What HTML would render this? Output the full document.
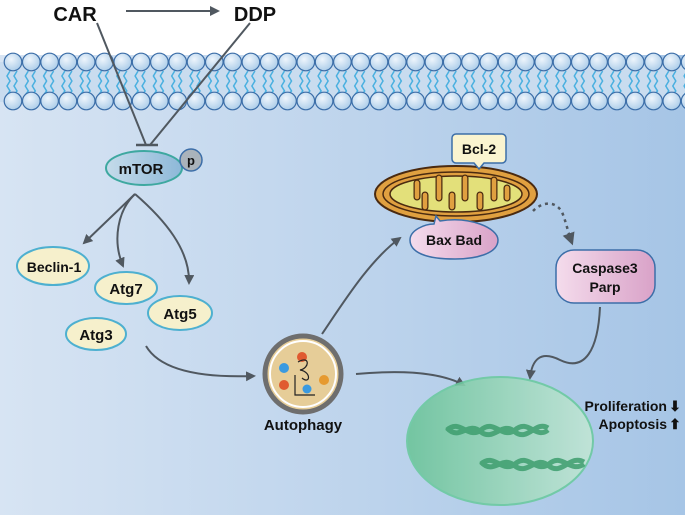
<!DOCTYPE html>
<html><head><meta charset="utf-8"><style>
html,body{margin:0;padding:0;background:#fff}
svg{display:block}
text{font-family:"Liberation Sans",sans-serif;font-weight:bold;fill:#111}
</style></head><body>
<svg width="685" height="520" viewBox="0 0 685 520" xmlns="http://www.w3.org/2000/svg">
<defs>
<linearGradient id="cell" x1="0" x2="1" y1="0" y2="0">
<stop offset="0" stop-color="#d7e4f3"/><stop offset="1" stop-color="#a6c5e6"/></linearGradient>
<linearGradient id="nuc" x1="0" x2="1"><stop offset="0" stop-color="#6cc49a"/><stop offset="1" stop-color="#c2e6d6"/></linearGradient>
<linearGradient id="pink" x1="0" x2="1"><stop offset="0" stop-color="#f4dcec"/><stop offset="1" stop-color="#d9a2c8"/></linearGradient>
<linearGradient id="mt" x1="0" x2="1"><stop offset="0" stop-color="#c5dbea"/><stop offset="1" stop-color="#8db8d8"/></linearGradient>
<radialGradient id="ball" cx="0.4" cy="0.35" r="0.7"><stop offset="0" stop-color="#eef5fc"/><stop offset="1" stop-color="#a9cbe8"/></radialGradient>
<marker id="ah" viewBox="0 0 10 10" refX="8" refY="5" markerWidth="5" markerHeight="5" orient="auto"><path d="M0,0L10,5L0,10z" fill="#505860"/></marker>
</defs>
<rect x="0" y="55" width="685" height="460" fill="url(#cell)"/>
<rect x="0" y="62" width="685" height="40" fill="#c9dcef"/>
<g id="mem"></g>
<g id="circles"></g>
<script>
(function(){var ns="http://www.w3.org/2000/svg",g=document.getElementById("circles"),m=document.getElementById("mem");
for(var i=0;i<38;i++){var x=13+i*18.3;
[62,101].forEach(function(y){var c=document.createElementNS(ns,"circle");c.setAttribute("cx",x);c.setAttribute("cy",y);c.setAttribute("r",8.8);c.setAttribute("fill","url(#ball)");c.setAttribute("stroke","#3c6ea8");c.setAttribute("stroke-width","1.2");g.appendChild(c);});
var p=document.createElementNS(ns,"path");p.setAttribute("d","M"+(x-3)+",71 l-3,5 l3,5 l-3,5 l3,5 l-3,4 M"+(x+4)+",71 l-3,5 l3,5 l-3,5 l3,5 l-3,4");p.setAttribute("stroke","#4ab0e0");p.setAttribute("stroke-width","1.5");p.setAttribute("fill","none");m.appendChild(p);}
})();
</script>
<!-- top -->
<text x="75" y="21" font-size="20" text-anchor="middle">CAR</text>
<text x="255" y="21" font-size="20" text-anchor="middle">DDP</text>
<line x1="126" y1="11" x2="218" y2="11" stroke="#505860" stroke-width="2" marker-end="url(#ah)"/>
<line x1="97" y1="23" x2="146" y2="145" stroke="#505860" stroke-width="2"/>
<line x1="250" y1="23" x2="150" y2="145" stroke="#505860" stroke-width="2"/>
<line x1="136" y1="145" x2="158" y2="145" stroke="#505860" stroke-width="2.5"/>
<!-- mTOR -->
<ellipse cx="144" cy="168" rx="38" ry="17" fill="url(#mt)" stroke="#3ea8a0" stroke-width="2"/>
<text x="141" y="174" font-size="15" text-anchor="middle">mTOR</text>
<circle cx="191" cy="160" r="11" fill="#aab3bb" stroke="#3c6ea8" stroke-width="1.5"/>
<text x="191" y="165" font-size="13" text-anchor="middle">p</text>
<!-- arrows -->
<g stroke="#505860" stroke-width="2" fill="none" marker-end="url(#ah)">
<path d="M135,194 L84,243"/>
<path d="M135,194 C118,210 112,240 123,266"/>
<path d="M135,194 C165,220 190,250 189,283"/>
<path d="M146,346 C160,370 200,378 254,376"/>
<path d="M322,334 C345,300 370,260 400,238"/>
<path d="M356,374 C400,370 440,372 464,385"/>
<path d="M600,307 C598,350 585,372 560,360 C540,350 532,360 530,378"/>
<path d="M533,211 C542,202 555,200 562,212 C566,222 568,232 572,243" stroke-dasharray="3,4" stroke-width="2.5"/>
</g>
<!-- left nodes -->
<g fill="#f6f0cc" stroke="#4eb0d0" stroke-width="2">
<ellipse cx="53" cy="266" rx="36" ry="19"/>
<ellipse cx="126" cy="288" rx="31" ry="16"/>
<ellipse cx="180" cy="313" rx="32" ry="17"/>
<ellipse cx="96" cy="334" rx="30" ry="16"/>
</g>
<text x="54" y="272" font-size="14" text-anchor="middle">Beclin-1</text>
<text x="126" y="294" font-size="15" text-anchor="middle">Atg7</text>
<text x="180" y="319" font-size="15" text-anchor="middle">Atg5</text>
<text x="96" y="340" font-size="15" text-anchor="middle">Atg3</text>
<!-- autophagy -->
<circle cx="303" cy="374" r="38" fill="#e6cd98" stroke="#6e6e6e" stroke-width="5"/>
<circle cx="303" cy="374" r="33" fill="none" stroke="#fff" stroke-width="2"/>
<circle cx="302" cy="357" r="5" fill="#e05a30"/><circle cx="284" cy="368" r="5" fill="#3a9ae0"/>
<circle cx="284" cy="385" r="5" fill="#e05a30"/><circle cx="307" cy="389" r="4.5" fill="#3a9ae0"/>
<circle cx="324" cy="380" r="5" fill="#e69a30"/>
<path d="M298,362 C310,355 310,368 300,370 C312,372 310,385 302,378 M295,375 L295,395 L315,395" stroke="#222" stroke-width="1.2" fill="none"/>
<text x="303" y="430" font-size="15" text-anchor="middle">Autophagy</text>
<!-- nucleus -->
<ellipse cx="500" cy="441" rx="93" ry="64" fill="url(#nuc)" stroke="#6ccaa0" stroke-width="2" opacity="0.9"/>
<g stroke="#3e9e6e" stroke-width="5" fill="none" opacity="0.85">
<path d="M447,430 C460,418 468,440 481,430 C494,418 502,440 515,430 C528,418 536,440 548,430"/>
<path d="M447,428 C460,442 468,420 481,432 C494,442 502,420 515,432 C528,442 536,420 548,428"/>
<path d="M481,464 C494,452 502,474 515,464 C528,452 536,474 549,464 C562,452 570,474 584,464"/>
<path d="M481,462 C494,476 502,454 515,466 C528,476 536,454 549,466 C562,476 570,454 584,462"/>
</g>
<text x="667" y="411" font-size="14" text-anchor="end">Proliferation</text>
<text x="667" y="429" font-size="14" text-anchor="end">Apoptosis</text>
<text x="675" y="411" font-size="14" text-anchor="middle">⬇</text>
<text x="675" y="429" font-size="14" text-anchor="middle">⬆</text>
<!-- mitochondria -->
<ellipse cx="456" cy="194" rx="81" ry="28" fill="#e0a040" stroke="#4a2a10" stroke-width="2"/>
<ellipse cx="456" cy="194" rx="73" ry="22" fill="none" stroke="#4a2a10" stroke-width="1.5"/>
<ellipse cx="456" cy="194" rx="66" ry="18" fill="#e3e07a" stroke="#4a2a10" stroke-width="1.5"/>
<g stroke="#4a2a10" stroke-width="7" stroke-linecap="round" fill="none">
<path d="M417,183 v14 M425,195 v12 M439,178 v20 M452,195 v12 M465,178 v20 M480,195 v12 M494,180 v18 M507,188 v10"/>
</g>
<g stroke="#e0a040" stroke-width="4.5" stroke-linecap="round" fill="none">
<path d="M417,183 v14 M425,195 v12 M439,178 v20 M452,195 v12 M465,178 v20 M480,195 v12 M494,180 v18 M507,188 v10"/>
</g>
<!-- Bcl-2 -->
<path d="M456,134 h46 a4,4 0 0 1 4,4 v21 a4,4 0 0 1 -4,4 h-18 l-5,6 l-5,-6 h-18 a4,4 0 0 1 -4,-4 v-21 a4,4 0 0 1 4,-4z" fill="#faf4d0" stroke="#3c6ea8" stroke-width="1.5"/>
<text x="479" y="154" font-size="14" text-anchor="middle">Bcl-2</text>
<!-- Bax Bad -->
<path d="M440,221 C470,216 498,228 498,240 C498,254 475,259 455,259 C425,259 410,252 410,240 C410,230 425,224 434,224 L436,216 Z" fill="url(#pink)" stroke="#3c6ea8" stroke-width="1.5"/>
<text x="454" y="245" font-size="14" text-anchor="middle">Bax Bad</text>
<!-- Caspase -->
<rect x="556" y="250" width="99" height="53" rx="18" fill="url(#pink)" stroke="#3c6ea8" stroke-width="1.5"/>
<text x="605" y="273" font-size="14" text-anchor="middle">Caspase3</text>
<text x="605" y="292" font-size="14" text-anchor="middle">Parp</text>
</svg>
</body></html>
